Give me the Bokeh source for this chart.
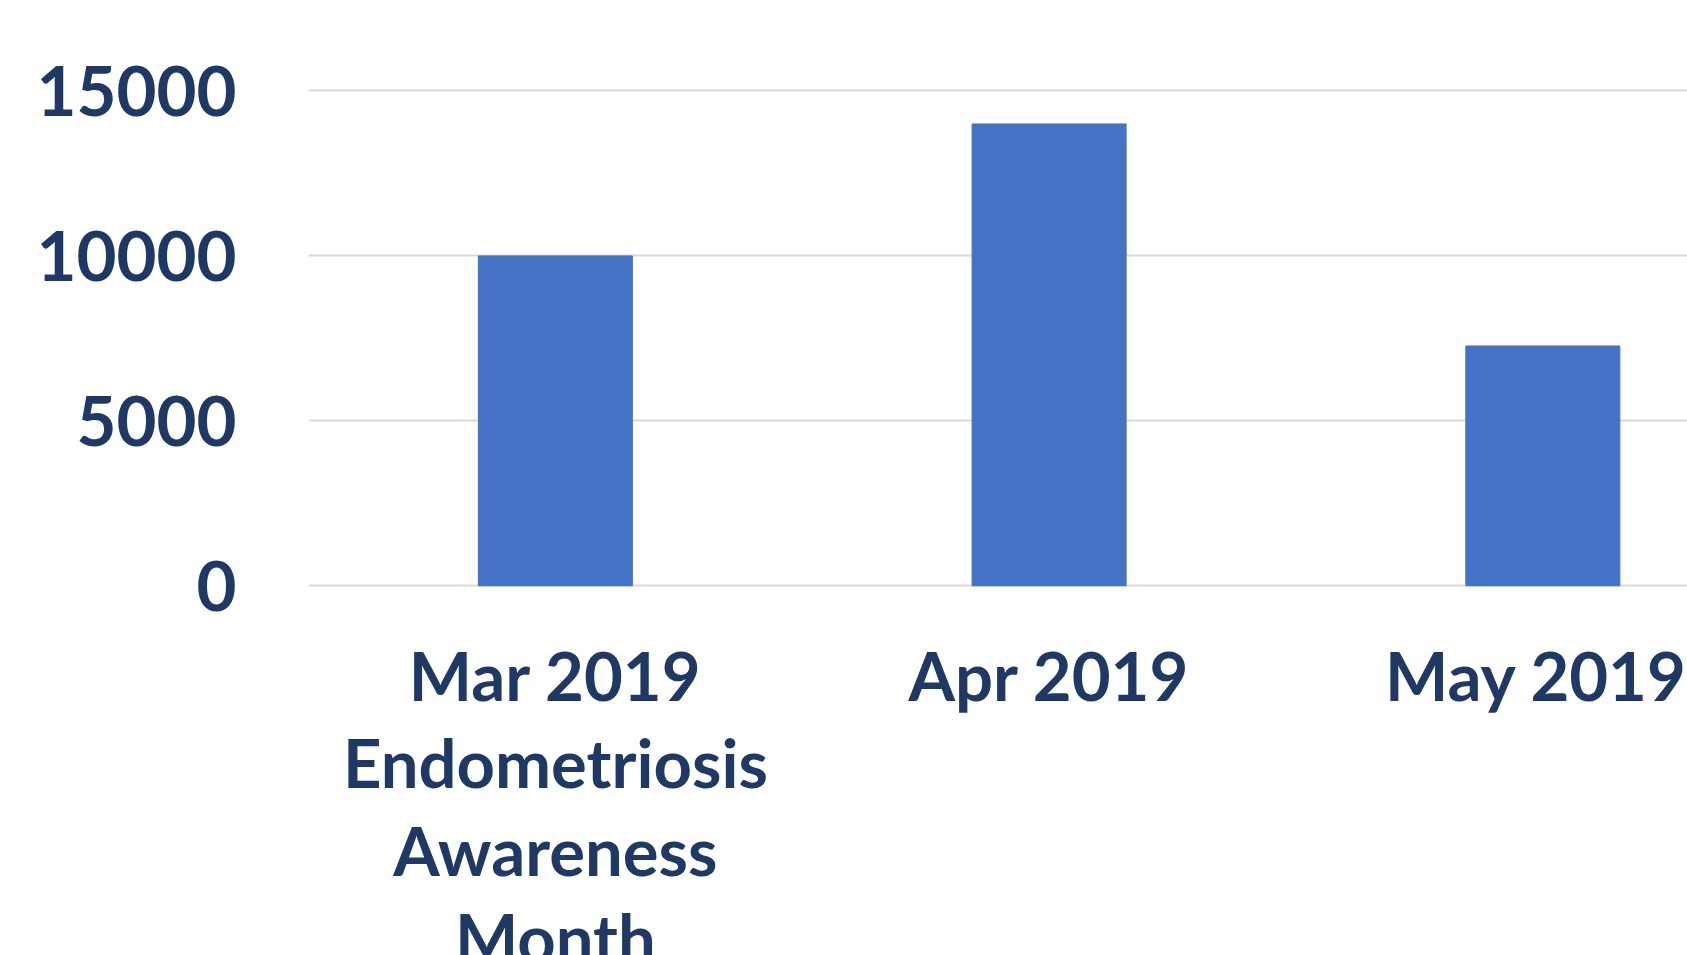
from bokeh.plotting import figure
from bokeh.models import Range1d, FixedTicker
from bokeh.embed import file_html
from bokeh.resources import INLINE

months = ["Mar 2019\nEndometriosis\nAwareness\nMonth", "Apr 2019", "May 2019"]
values = [10000, 14000, 7270]
y_ticks = [0, 5000, 10000, 15000]

xpos = [i + 0.5 for i in range(len(months))]

TEXT = "#203864"

p = figure(width=1687, height=955, output_backend="svg", toolbar_location=None,
           x_range=Range1d(0, 2.793), y_range=Range1d(-11206, 17742),
           min_border_left=308, min_border_right=0, min_border_top=0,
           min_border_bottom=0)
p.outline_line_color = None
p.background_fill_color = "white"
p.border_fill_color = "white"

p.vbar(x=xpos, top=values, bottom=0, width=0.312, fill_color="#4472C4",
       line_color="#4472C4")

p.xgrid.visible = False
p.yaxis.ticker = FixedTicker(ticks=y_ticks)
p.ygrid.grid_line_color = "#D9D9D9"
p.ygrid.grid_line_width = 2

p.yaxis.axis_line_color = None
p.yaxis.major_tick_line_color = None
p.yaxis.minor_tick_line_color = None
p.yaxis.major_label_standoff = 66
p.yaxis.major_label_text_font = "Lato"
p.yaxis.major_label_text_font_style = "bold"
p.yaxis.major_label_text_font_size = "69px"
p.yaxis.major_label_text_color = TEXT

p.xaxis.ticker = FixedTicker(ticks=xpos)
p.xaxis.major_label_overrides = {x: m for x, m in zip(xpos, months)}
p.xaxis.fixed_location = 0
p.xaxis.axis_line_color = None
p.xaxis.major_tick_line_color = None
p.xaxis.minor_tick_line_color = None
p.xaxis.major_label_standoff = 43
p.xaxis.major_label_text_font = "Lato"
p.xaxis.major_label_text_font_style = "bold"
p.xaxis.major_label_text_font_size = "67px"
p.xaxis.major_label_text_line_height = 1.094
p.xaxis.major_label_text_color = TEXT

open("out.html", "w").write(file_html(p, INLINE))
